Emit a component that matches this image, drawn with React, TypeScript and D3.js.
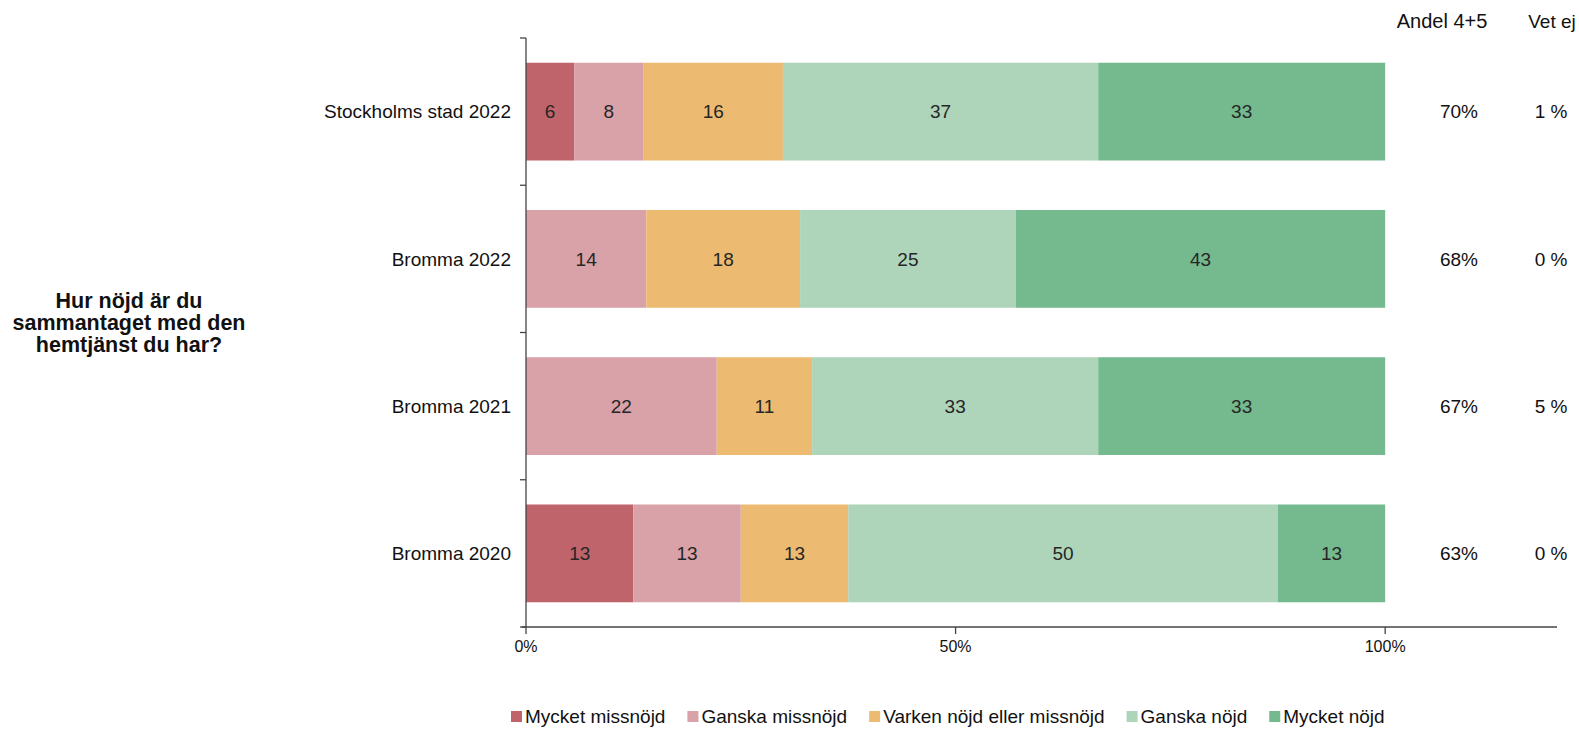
import React from "react";
import * as d3 from "d3";

const categories = ["Stockholms stad 2022", "Bromma 2022", "Bromma 2021", "Bromma 2020"];
const seriesNames = ["Mycket missnöjd", "Ganska missnöjd", "Varken nöjd eller missnöjd", "Ganska nöjd", "Mycket nöjd"];
const seriesColors = ["#C0646B", "#D9A1A8", "#ECBB71", "#AED5BA", "#75B98F"];
const mycketMissnojd = [5.6, 0, 0, 12.5];
const ganskaMissnojd = [8.1, 14.0, 22.2, 12.5];
const varken = [16.2, 17.9, 11.1, 12.5];
const ganskaNojd = [36.7, 25.1, 33.3, 50.0];
const mycketNojd = [33.4, 43.0, 33.4, 12.5];
const andel45 = ["70%", "68%", "67%", "63%"];
const vetEj = ["1 %", "0 %", "5 %", "0 %"];
const xTicks = [0, 50, 100];
const title = ["Hur nöjd är du", "sammantaget med den", "hemtjänst du har?"];

const W = 1579;
const H = 730;
const FONT = "'Liberation Sans', Arial, sans-serif";
const FS = 19;

function measure(text: string, font: string): number {
  const c = document.createElement("canvas");
  const ctx = c.getContext("2d");
  if (!ctx) return text.length * 9;
  ctx.font = font;
  return ctx.measureText(text).width;
}

export default function App() {
  React.useEffect(() => {
    document.body.style.margin = "0";
  }, []);

  const series = [mycketMissnojd, ganskaMissnojd, varken, ganskaNojd, mycketNojd];
  const x = d3.scaleLinear().domain([0, 120]).range([526, 1557]);
  const y = d3.scaleBand<string>().domain(categories).range([38, 627]).paddingInner(0.336).paddingOuter(0.168);
  const step = y.step();
  const axisY = 627;

  const segs: { cat: string; si: number; x0: number; x1: number; v: number }[] = [];
  categories.forEach((cat, ci) => {
    let acc = 0;
    series.forEach((s, si) => {
      const v = s[ci];
      if (v > 0) segs.push({ cat, si, x0: acc, x1: acc + v, v });
      acc += v;
    });
  });

  const legFont = `${FS}px ${FONT}`;
  let lx = 511;
  const legend = seriesNames.map((name, i) => {
    const item = { name, color: seriesColors[i], x: lx };
    lx += 14 + measure(name, legFont) + 22;
    return item;
  });

  const boundaries = categories.map((c) => (y(c) as number) - (step * 0.336) / 2);
  boundaries.push(axisY);

  const cy = (c: string) => (y(c) as number) + y.bandwidth() / 2;

  return (
    <svg width={W} height={H} style={{ display: "block", fontFamily: FONT }}>
      <rect width={W} height={H} fill="#fff" />
      {segs.map((d, i) => (
        <g key={i}>
          <rect
            x={x(d.x0)}
            y={y(d.cat)}
            width={x(d.x1) - x(d.x0)}
            height={y.bandwidth()}
            fill={seriesColors[d.si]}
          />
          <text
            x={(x(d.x0) + x(d.x1)) / 2}
            y={cy(d.cat)}
            dy="0.35em"
            textAnchor="middle"
            fontSize={FS}
            fill="#262626"
          >
            {Math.round(d.v)}
          </text>
        </g>
      ))}
      <line x1={x(0)} x2={x(0)} y1={38} y2={axisY} stroke="#444" strokeWidth={1.3} />
      {boundaries.map((b, i) => (
        <line key={i} x1={x(0) - 6} x2={x(0)} y1={b} y2={b} stroke="#444" strokeWidth={1.3} />
      ))}
      <line x1={x(0) - 4} x2={x(120)} y1={axisY} y2={axisY} stroke="#444" strokeWidth={1.3} />
      {xTicks.map((t) => (
        <g key={t}>
          <line x1={x(t)} x2={x(t)} y1={axisY} y2={axisY + 7} stroke="#444" strokeWidth={1.3} />
          <text x={x(t)} y={646} dy="0.35em" textAnchor="middle" fontSize={16} fill="#111">
            {t}%
          </text>
        </g>
      ))}
      {categories.map((c) => (
        <text key={c} x={511} y={cy(c)} dy="0.35em" textAnchor="end" fontSize={FS} fill="#111">
          {c}
        </text>
      ))}
      <text x={1442} y={21} dy="0.35em" textAnchor="middle" fontSize={20} fill="#111">Andel 4+5</text>
      <text x={1552} y={21} dy="0.35em" textAnchor="middle" fontSize={FS} fill="#111">Vet ej</text>
      {categories.map((c, i) => (
        <g key={c}>
          <text x={1459} y={cy(c)} dy="0.35em" textAnchor="middle" fontSize={FS} fill="#111">
            {andel45[i]}
          </text>
          <text x={1551} y={cy(c)} dy="0.35em" textAnchor="middle" fontSize={FS} fill="#111">
            {vetEj[i]}
          </text>
        </g>
      ))}
      {title.map((t, i) => (
        <text key={i} x={129} y={300 + i * 22} dy="0.35em" textAnchor="middle" fontSize={21.5} fontWeight="bold" fill="#111">
          {t}
        </text>
      ))}
      {legend.map((l) => (
        <g key={l.name}>
          <rect x={l.x} y={711} width={11} height={11} fill={l.color} />
          <text x={l.x + 14} y={716} dy="0.35em" fontSize={FS} fill="#111">
            {l.name}
          </text>
        </g>
      ))}
    </svg>
  );
}
